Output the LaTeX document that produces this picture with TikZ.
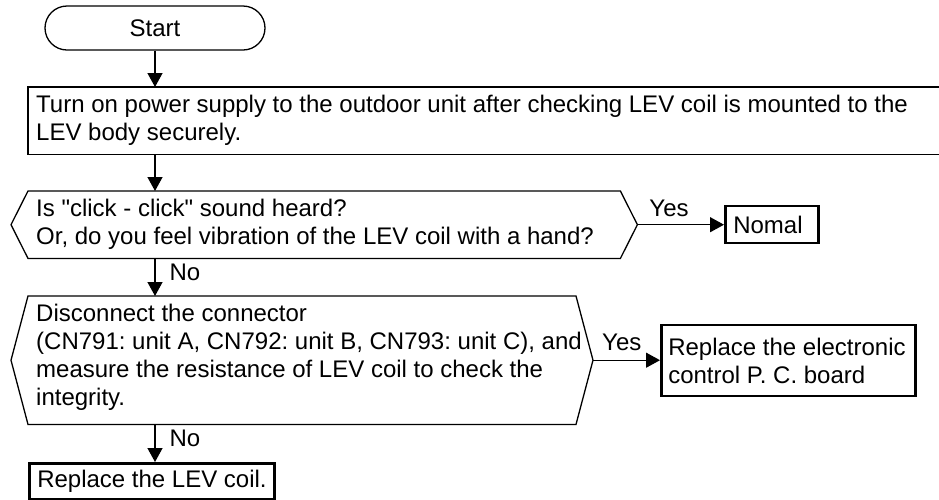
\documentclass[tikz,border=0pt]{standalone}
\usepackage{fontspec}
\setmainfont{Liberation Sans}[Ligatures=TeXOff]
\usetikzlibrary{arrows.meta}
\begin{document}
\frenchspacing
\begin{tikzpicture}[x=1pt,y=-1pt,
  font=\fontsize{24}{28}\selectfont,
  thinline/.style={line width=1.3pt},
  arr/.style={thinline, -{Triangle[length=14pt,width=15pt]}},
  txt/.style={inner xsep=8pt, inner ysep=0pt, align=flush left},
  box/.style={txt, draw, line width=2.5pt},
  lab/.style={inner sep=0pt}]
\useasboundingbox (0,0) rectangle (939,499);
\coordinate (rb) at (939,0);
% start
\node[draw, thinline, rounded corners=22pt, minimum width=220pt, minimum height=44pt, inner sep=0pt] (start) at (155,28) {Start};
% box 1 (open at right)
\node[txt, anchor=north west, text width=900pt, minimum height=67pt] (b1) at (28,87)
  {Turn on power supply to the outdoor unit after checking LEV coil is mounted to the\\LEV body securely.};
\draw[thinline] (b1.north west -| rb) -- (b1.north west) -- (b1.south west) -- (b1.south west -| rb);
% decision 1
\node[txt, anchor=north west, text width=576pt, minimum height=67pt] (d1) at (28,191)
  {Is "click - click" sound heard?\\Or, do you feel vibration of the LEV coil with a hand?};
\coordinate (d1e) at ([xshift=17pt]d1.east);
\coordinate (d1w) at ([xshift=-17pt]d1.west);
\draw[thinline] (d1.north west) -- (d1.north east) -- (d1e) -- (d1.south east) -- (d1.south west) -- (d1w) -- cycle;
% normal
\node[box, anchor=west, text width=77pt, minimum height=37pt] (nomal) at (724,224.5) {Nomal};
% decision 2 (text sits slightly above the shape's centre)
\node[txt, anchor=north west, text width=570pt, minimum height=128pt] (d2) at (28,293)
  {Disconnect the connector\\(CN791: unit A, CN792: unit B, CN793: unit C), and\\measure the resistance of LEV coil to check the\\integrity.};
\coordinate (d2r) at (576,0);
\coordinate (d2nw) at ([yshift=-3pt]d2.north west);
\coordinate (d2sw) at ([yshift=-3pt]d2.south west);
\coordinate (d2ne) at (d2nw -| d2r);
\coordinate (d2se) at (d2sw -| d2r);
\coordinate (d2e) at ([xshift=17pt,yshift=-3pt]d2.west -| d2r);
\coordinate (d2w) at ([xshift=-17pt,yshift=-3pt]d2.west);
\draw[thinline] (d2nw) -- (d2ne) -- (d2e) -- (d2se) -- (d2sw) -- (d2w) -- cycle;
% pcb
\node[box, anchor=west, inner xsep=7pt, text width=240pt, minimum height=71pt] (pcb) at (660,360.5) {Replace the electronic\\control P. C. board};
% final
\node[box, anchor=north west, minimum height=36pt] (coil) at (28,462) {Replace the LEV coil.};
% connectors
\draw[arr] (start.south) -- (start.south |- b1.north);
\draw[arr] (start.south |- b1.south) -- (start.south |- d1.north);
\draw[arr] (start.south |- d1.south) -- node[lab, pos=0.37, anchor=west, xshift=14pt] {No} (start.south |- d2nw);
\draw[arr] (start.south |- d2sw) -- node[lab, pos=0.37, anchor=west, xshift=14pt] {No} (start.south |- coil.north);
\draw[arr] (d1e) -- node[lab, pos=0.365, anchor=south, yshift=7pt] {Yes} (d1e -| nomal.west);
\draw[arr] (d2e) -- node[lab, pos=0.43, anchor=south, yshift=9pt] {Yes} (d2e -| pcb.west);
\end{tikzpicture}
\end{document}
